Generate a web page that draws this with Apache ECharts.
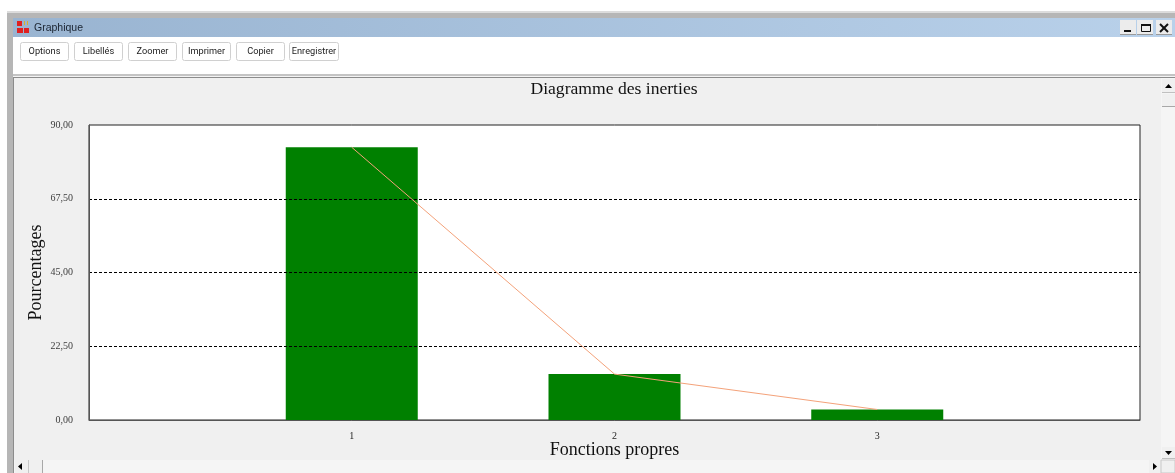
<!DOCTYPE html>
<html><head><meta charset="utf-8">
<style>html,body{margin:0;padding:0;background:#fff}#c{width:1175px;height:473px}</style>
<script src="https://cdn.jsdelivr.net/npm/echarts@6/dist/echarts.min.js"></script>
</head><body><div id="c"></div>
<script>
const categories = ['', '1', '2', '3', ''];
const inertia = [null, 83.2, 14.0, 3.2, null];
const yMax = 90;
const yStep = 22.5;
const chartTitle = 'Diagramme des inerties';
const yName = 'Pourcentages';
const xName = 'Fonctions propres';
const windowTitle = 'Graphique';
const buttons = ['Options', 'Libellés', 'Zoomer', 'Imprimer', 'Copier', 'Enregistrer'];
const buttonLeft = [20, 74, 128, 182, 236, 289];
const buttonWidth = [48, 48, 48, 48, 48, 49];

const R = (x, y, w, h, fill, extra) => Object.assign({type:'rect', silent:true, shape:{x,y,width:w,height:h}, style:{fill}}, extra||{});
const T = (x, y, text, font, fill, align) => ({type:'text', silent:true, x, y, style:{text, font, fill, align:align||'center', verticalAlign:'middle'}});
const P = (pts, fill) => ({type:'polygon', silent:true, shape:{points:pts}, style:{fill}});
const chrome = [
  R(7, 12, 1168, 461, '#b6b6b6'),
  R(7, 11, 1168, 2, '#dcdcdc'),
  R(13, 18, 1162, 19, new echarts.graphic.LinearGradient(0,0,1,0,[{offset:0,color:'#99b4d1'},{offset:1,color:'#b9d1ea'}])),
  R(13, 37, 1162, 37, '#ffffff'),
  R(13, 74, 1162, 2, '#c4c4c4'),
  R(13, 76, 1162, 1, '#f4f4f4'),
  R(13, 77, 1162, 396, '#8c8c8c'),
  R(14, 78, 1161, 395, '#f0f0f0'),
  R(1161, 78, 14, 395, '#f5f5f5'),
  R(14, 460, 1161, 13, '#f5f5f5'),
  // window icon
  R(17, 21, 5, 5, '#e02020'), R(17, 28, 6, 5, '#e02020'), R(24, 28, 5, 5, '#e02020'), R(24, 21, 1, 4, '#d8b030'), R(27, 21, 1, 4, '#d8b030'),
  T(34, 28, windowTitle, '10.5px "Liberation Sans"', '#1a2330', 'left'),
  // window buttons
  R(1120, 20, 16, 15, '#ececec'), R(1120, 34, 16, 1, '#9a9a9a'),
  R(1137, 20, 16, 15, '#ececec'), R(1137, 34, 16, 1, '#9a9a9a'),
  R(1156, 20, 16, 15, '#ececec'), R(1156, 34, 16, 1, '#9a9a9a'),
  R(1124, 30, 7, 2, '#111'),
  R(1141.5, 24.5, 9, 7, 'none', {style:{fill:'none',stroke:'#111',lineWidth:1}}), R(1141, 24, 10, 2, '#111'),
  {type:'line', silent:true, shape:{x1:1160,y1:24,x2:1168,y2:32}, style:{stroke:'#111',lineWidth:2}},
  {type:'line', silent:true, shape:{x1:1168,y1:24,x2:1160,y2:32}, style:{stroke:'#111',lineWidth:2}},
  // scrollbars
  R(1162, 79, 13, 14, '#f0f0f0'), R(1162, 92, 13, 1, '#c0c0c0'),
  P([[1165,88],[1172,88],[1168.5,84]], '#000'),
  R(1162, 94, 13, 13, '#f0f0f0'), R(1162, 106, 13, 1, '#a8a8a8'),
  R(1162, 447, 13, 12, '#f0f0f0'), R(1162, 458, 13, 1, '#c0c0c0'),
  P([[1165,451],[1172,451],[1168.5,455]], '#000'),
  R(15, 460, 13, 13, '#f0f0f0'),
  P([[22,463],[22,470],[18,466.5]], '#000'),
  R(28, 460, 14, 13, '#f0f0f0'), R(42, 460, 1, 13, '#a8a8a8'), R(28, 460, 1, 13, '#c8c8c8'),
  R(1149, 460, 12, 13, '#f0f0f0'),
  P([[1153,463],[1153,470],[1157,466.5]], '#000'),
  R(1161, 460, 14, 13, '#f0f0f0', {style:{fill:'#f0f0f0',stroke:'#c8c8c8',lineWidth:1}})
];
buttons.forEach((b, i) => {
  const x = buttonLeft[i], w = buttonWidth[i];
  chrome.push({type:'rect', silent:true, shape:{x:x+0.5,y:42.5,width:w,height:18,r:2}, style:{fill:'#fff',stroke:'#d0d0d0',lineWidth:1}});
  chrome.push(T(x + w/2 + 0.5, 52, b, '9.2px Roboto', '#222'));
});
chrome.forEach(e => e.z = -10);

const chart = echarts.init(document.getElementById('c'), null, {renderer:'canvas'});
const serif = '"Liberation Serif"';
chart.setOption({
  animation:false,
  backgroundColor:'#fff',
  title:{text:chartTitle, left:614, top:80, textAlign:'center', padding:0,
    textStyle:{fontFamily:serif,fontSize:17.6,fontWeight:'normal',color:'#111'}},
  grid:{left:89, right:35, top:125, bottom:53, show:true, backgroundColor:'#fff', borderColor:'#222', borderWidth:1},
  xAxis:{type:'category', data:categories, boundaryGap:false,
    name:xName, nameLocation:'middle', nameGap:21, nameMoveOverlap:false,
    nameTextStyle:{fontFamily:serif,fontSize:18,color:'#111'},
    axisLine:{lineStyle:{color:'#555'}}, axisTick:{show:false}, splitLine:{show:false},
    axisLabel:{interval:0, margin:11, fontFamily:serif, fontSize:10, color:'#222'}},
  yAxis:{type:'value', min:0, max:yMax, interval:yStep, z:3,
    name:yName, nameLocation:'middle', nameGap:44, nameMoveOverlap:false,
    nameTextStyle:{fontFamily:serif,fontSize:18,color:'#111'},
    axisLine:{show:true,lineStyle:{color:'#555'}}, axisTick:{show:false},
    splitLine:{show:true,showMinLine:false,showMaxLine:false,lineStyle:{type:[3,2],color:'#000',width:1}},
    axisLabel:{margin:16, fontFamily:serif, fontSize:10, color:'#3c3c3c',
      formatter:v => v.toFixed(2).replace('.', ',')}},
  series:[
    {type:'bar', data:inertia, barWidth:132, itemStyle:{color:'#008000'}, z:2},
    {type:'line', data:inertia, symbol:'none', connectNulls:false, z:4,
      lineStyle:{color:'#f4a27a',width:1}}
  ],
  graphic:chrome
});
</script></body></html>
